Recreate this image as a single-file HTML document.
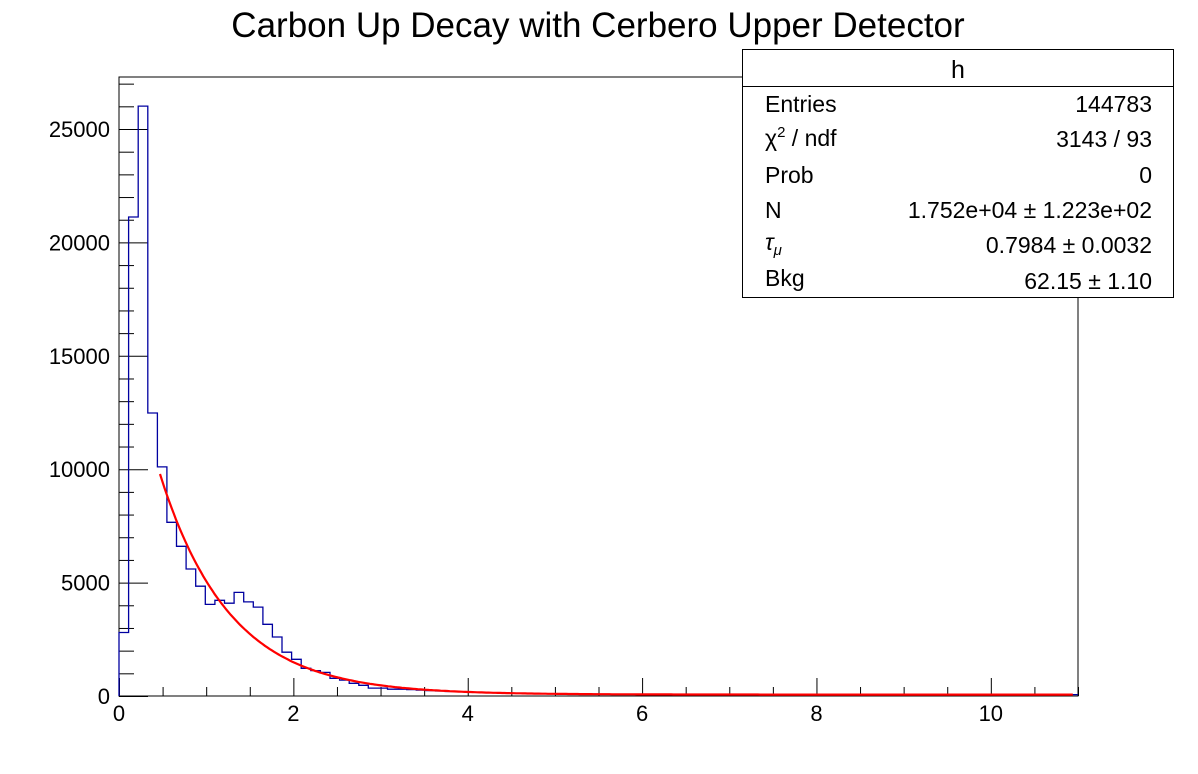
<!DOCTYPE html>
<html><head><meta charset="utf-8"><style>
html,body{margin:0;padding:0;background:#fff;}
svg{display:block;font-family:"Liberation Sans",Arial,sans-serif;}
</style></head><body>
<svg id="c" width="1198" height="774">
<rect width="1198" height="774" fill="#fff"/>
<text x="598" y="37" font-size="35" text-anchor="middle">Carbon Up Decay with Cerbero Upper Detector</text>
<rect x="119" y="77" width="959" height="619" fill="none" stroke="#000" stroke-width="1"/>
<g id="axes"></g>
<path id="hist" fill="none" stroke="#0000a0" stroke-width="1.3"/>
<path id="fit" fill="none" stroke="#ff0000" stroke-width="2.2"/>
<g>
<rect x="742.5" y="49.5" width="431" height="248" fill="#fff" stroke="#000"/>
<line x1="742.5" y1="86.5" x2="1173.5" y2="86.5" stroke="#000"/>
<text x="958" y="78" font-size="25" text-anchor="middle">h</text>
<g font-size="23">
<text x="765" y="112">Entries</text><text x="1152" y="112" text-anchor="end">144783</text>
<text x="765" y="146">χ<tspan font-size="15" dy="-9">2</tspan><tspan dy="9"> / ndf</tspan></text><text x="1152" y="147" text-anchor="end">3143 / 93</text>
<text x="765" y="183">Prob</text><text x="1152" y="183" text-anchor="end">0</text>
<text x="765" y="218">N</text><text x="1152" y="218" text-anchor="end">1.752e+04 ± 1.223e+02</text>
<text x="765" y="250" font-style="italic">τ<tspan font-size="15" dy="5">μ</tspan></text><text x="1152" y="253" text-anchor="end">0.7984 ± 0.0032</text>
<text x="765" y="286">Bkg</text><text x="1152" y="289" text-anchor="end">62.15 ± 1.10</text>
</g></g>
</svg>
<script>
const binLow = 0, binWidth = 0.11;
const counts = [2800,21120,26010,12480,10100,7660,6600,5600,4840,4040,
4220,4090,4570,4150,3920,3160,2600,1930,1620,1220,
1120,1040,780,700,560,470,350,350,300,300,
280,260,240,220,200,180,170,160,150,140,
130,120,115,110,105,100,95,92,90,88,
85,84,82,80,80,78,78,76,75,74,
74,73,72,72,71,70,70,69,69,68,
68,67,67,66,66,66,65,65,65,64,
64,64,64,63,63,63,63,63,62,62,
62,62,62,62,62,61,61,61,61,61];
const fitN = 17520, fitTau = 0.7984, fitBkg = 62.15, fitMin = 0.47, fitMax = 10.94;
const xTicks = [0,2,4,6,8,10];
const yTicks = [0,5000,10000,15000,20000,25000];

const X0=119,X1=1078,Y0=696,Y1=77,xMax=11,yMax=27293;
const sx=v=>X0+(v/xMax)*(X1-X0);
const sy=v=>Y0-(v/yMax)*(Y0-Y1);
const NS="http://www.w3.org/2000/svg";
const axes=document.getElementById('axes');
function ln(x1,y1,x2,y2,name){const l=document.createElementNS(NS,'line');
l.setAttribute('x1',x1);l.setAttribute('y1',y1);l.setAttribute('x2',x2);l.setAttribute('y2',y2);
l.setAttribute('stroke','#000');


axes.appendChild(l);}
function tx(x,y,s,anchor,name){const t=document.createElementNS(NS,'text');
t.setAttribute('x',x);t.setAttribute('y',y);t.setAttribute('font-size','22');t.setAttribute('text-anchor',anchor);t.textContent=s;


axes.appendChild(t);}
for(let v=0;v<=xMax+1e-9;v+=0.5){const x=sx(v)+0.5;const major=Math.abs(v/2-Math.round(v/2))<1e-6;
ln(x,Y0,x,Y0-(major?18:9),'x-tick');}
xTicks.forEach(v=>tx(sx(v),721,String(v),'middle','x-tick-label'));
for(let v=0;v<=yMax;v+=1000){const y=sy(v)+0.5;const major=v%5000===0;
ln(X0,y,X0+(major?29:15),y,'y-tick');}
yTicks.forEach(v=>tx(110,sy(v)+8,String(v),'end','y-tick-label'));
let d='M'+sx(binLow)+','+Y0;
counts.forEach((c,i)=>{const a=sx(binLow+i*binWidth),b=sx(binLow+(i+1)*binWidth),y=sy(c);
d+=' L'+a.toFixed(1)+','+y.toFixed(1)+' L'+b.toFixed(1)+','+y.toFixed(1);});
document.getElementById('hist').setAttribute('d',d);
let f='';for(let i=0;i<=400;i++){const x=fitMin+(fitMax-fitMin)*i/400;const v=fitN*Math.exp(-x/fitTau)+fitBkg;
f+=(i?' L':'M')+sx(x).toFixed(1)+','+sy(v).toFixed(1);}
document.getElementById('fit').setAttribute('d',f);
</script>
</body></html>
